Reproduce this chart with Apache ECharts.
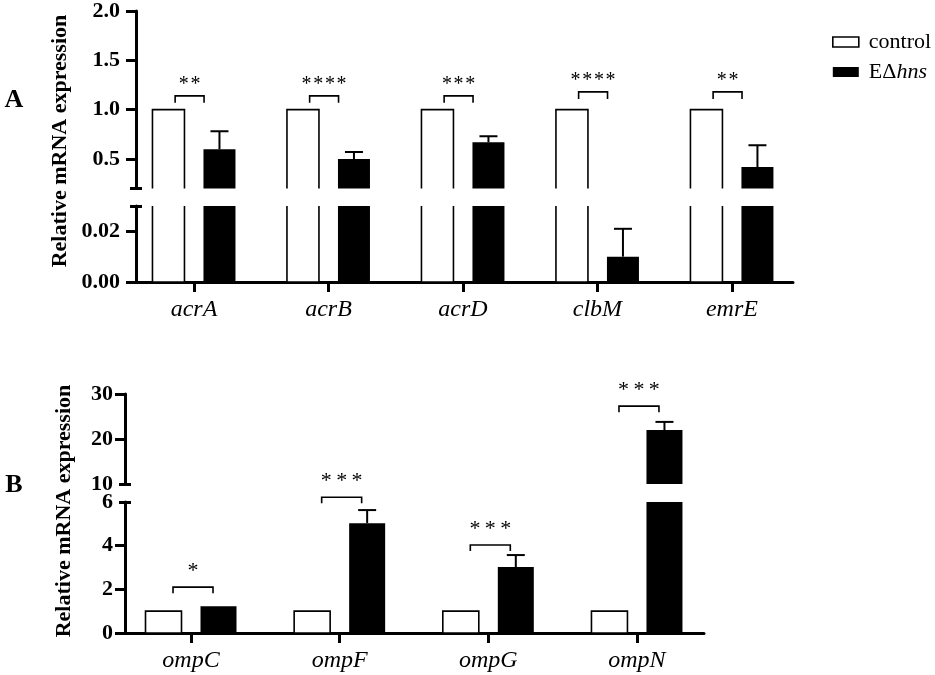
<!DOCTYPE html>
<html><head><meta charset="utf-8">
<script src="https://cdn.jsdelivr.net/npm/echarts@6/dist/echarts.min.js"></script>
<style>html,body{margin:0;padding:0;background:#fff}#c{width:935px;height:675px}</style>
</head><body><div id="c"></div>
<script>
// ---------- data ----------
const genesA = ['acrA', 'acrB', 'acrD', 'clbM', 'emrE'];
const controlA = [1, 1, 1, 1, 1];
const mutantA = [0.60, 0.50, 0.67, 0.010, 0.42];
const errA = [0.18, 0.07, 0.06, 0.011, 0.22];
const sigA = ['**', '****', '***', '****', '**'];
const sigLevelA = [1.14, 1.14, 1.14, 1.18, 1.18];
const labelsAUpper = [0.5, 1.0, 1.5, 2.0];
const labelsALower = [0.00, 0.02];

const genesB = ['ompC', 'ompF', 'ompG', 'ompN'];
const controlB = [1, 1, 1, 1];
const mutantB = [1.22, 5.03, 3.02, 22.0];
const errB = [0, 0.60, 0.55, 1.8];
const sigB = ['*', '***', '***', '***'];
const sigLevelB = [2.1, 6.22, 4.03, 27.3];
const labelsBUpper = [10, 20, 30];
const labelsBLower = [0, 2, 4, 6];

// ---------- style / layout ----------
const SERIF = '"Liberation Serif", "Times New Roman", serif';
const AX = {upperMin: 0.2, upperMax: 2.0, lowerMin: 0, lowerMax: 0.03, xMin: -0.431, xMax: 4.454};
const BX = {upperMin: 10, upperMax: 30, lowerMin: 0, lowerMax: 6, xMin: -0.444, xMax: 3.451};

function xAxisCfg(gridIndex, min, max, names, show, margin) {
  const idx = names.map((_, i) => i);
  return {
    type: 'value', gridIndex, min, max, splitLine: {show: false},
    axisLine: {show: show, onZero: false, lineStyle: {color: '#000', width: 3}},
    axisTick: {show: show, customValues: idx, length: 10, lineStyle: {color: '#000', width: 3}},
    axisLabel: {show: show, customValues: idx, formatter: v => names[Math.round(v)] || '',
      fontFamily: SERIF, fontStyle: 'italic', fontSize: 24, color: '#000', margin: margin}
  };
}
function yAxisCfg(gridIndex, min, max, labels, ticks, fmt, margin) {
  return {
    type: 'value', gridIndex, min, max, position: 'left', splitLine: {show: false},
    axisLine: {show: true, onZero: false, lineStyle: {color: '#000', width: 3}},
    axisTick: {show: true, customValues: ticks, length: 10, lineStyle: {color: '#000', width: 3}},
    axisLabel: {customValues: labels, formatter: fmt, fontFamily: SERIF, fontWeight: 'bold',
      fontSize: 22, color: '#000', margin: margin}
  };
}
function capAxisCfg(gridIndex, min, max, val) {
  return {
    type: 'value', gridIndex, min, max, position: 'left', offset: 6, splitLine: {show: false},
    axisLine: {show: false, onZero: false},
    axisTick: {show: true, inside: true, customValues: [val], length: 12, lineStyle: {color: '#000', width: 3}},
    axisLabel: {show: false}
  };
}
function barSeries(name, xi, yi, vals, side, fill, stroke, w, gapPx) {
  const off = side * (w + gapPx) / 2;
  return {
    type: 'custom', name, xAxisIndex: xi, yAxisIndex: yi, clip: true, silent: true, z: 3,
    data: vals.map((v, i) => [i, v]),
    renderItem(p, api) {
      const i = api.value(0), v = api.value(1);
      const top = api.coord([i, v]);
      const base = api.coord([i, 0]);
      const cx = top[0] + off;
      return {
        type: 'rect',
        shape: {x: cx - w / 2, y: Math.min(top[1], base[1]), width: w, height: Math.abs(base[1] - top[1])},
        style: {fill: fill, stroke: stroke || null, lineWidth: stroke ? 1.6 : 0}
      };
    }
  };
}
function errSeries(xi, yi, vals, errs, offPx, capW) {
  return {
    type: 'custom', xAxisIndex: xi, yAxisIndex: yi, clip: true, silent: true, z: 4,
    data: vals.map((v, i) => [i, v, v + errs[i], errs[i]]),
    renderItem(p, api) {
      if (!(api.value(3) > 0)) return null;
      const i = api.value(0);
      const lo = api.coord([i, api.value(1)]);
      const hi = api.coord([i, api.value(2)]);
      const cx = lo[0] + offPx;
      return {
        type: 'group', children: [
          {type: 'line', shape: {x1: cx, y1: lo[1], x2: cx, y2: hi[1]}, style: {stroke: '#000', lineWidth: 2}},
          {type: 'line', shape: {x1: cx - capW / 2, y1: hi[1], x2: cx + capW / 2, y2: hi[1]}, style: {stroke: '#000', lineWidth: 2}}
        ]
      };
    }
  };
}
function sigSeries(xi, yi, levels, sigs, keep, dl, dr, leg, fontSize, sep, starDy) {
  return {
    type: 'custom', xAxisIndex: xi, yAxisIndex: yi, clip: false, silent: true, z: 4,
    data: levels.map((v, i) => [i, v]).filter(d => keep(d[1])),
    renderItem(p, api) {
      const i = api.value(0), y = api.value(1);
      const l = api.coord([i + dl, y]);
      const r = api.coord([i + dr, y]);
      return {
        type: 'group', children: [
          {type: 'polyline', shape: {points: [[l[0], l[1] + leg], [l[0], l[1]], [r[0], l[1]], [r[0], l[1] + leg]]},
            style: {stroke: '#000', lineWidth: 1.6, fill: null}},
          {type: 'text', style: {text: sigs[i].split('').join(sep), x: (l[0] + r[0]) / 2, y: l[1] - starDy,
            align: 'center', verticalAlign: 'middle', fontFamily: SERIF, fontSize: fontSize, fill: '#000'}}
        ]
      };
    }
  };
}

const A_W = 32, A_GAP = 19, B_W = 36, B_GAP = 19;

const option = {
  backgroundColor: '#fff',
  animation: false,
  legend: {
    orient: 'vertical', left: 827, top: 26, itemWidth: 26, itemHeight: 10, itemGap: 8,
    selectedMode: false,
    data: [
      {name: 'control', icon: 'rect', itemStyle: {color: '#fff', borderColor: '#000', borderWidth: 1.6}},
      {name: 'E\u0394hns', icon: 'rect', itemStyle: {color: '#000', borderWidth: 0}}
    ],
    formatter: n => n === 'control' ? '{n|control}' : '{n|E\u0394}{i|hns}',
    textStyle: {padding: [0, 0, 0, 5], lineHeight: 22, rich: {
      n: {fontFamily: SERIF, fontSize: 22, color: '#000', lineHeight: 22},
      i: {fontFamily: SERIF, fontSize: 22, color: '#000', fontStyle: 'italic', lineHeight: 22}
    }}
  },
  grid: [
    {left: 136, right: 142, top: 11, height: 177.6},
    {left: 136, right: 142, top: 206, height: 76},
    {left: 125, right: 231, top: 394, height: 90},
    {left: 125, right: 231, top: 502, height: 131}
  ],
  xAxis: [
    xAxisCfg(0, AX.xMin, AX.xMax, genesA, false, 16),
    xAxisCfg(1, AX.xMin, AX.xMax, genesA, true, 16),
    xAxisCfg(2, BX.xMin, BX.xMax, genesB, false, 16),
    xAxisCfg(3, BX.xMin, BX.xMax, genesB, true, 16)
  ],
  yAxis: [
    yAxisCfg(0, AX.upperMin, AX.upperMax, labelsAUpper, labelsAUpper, v => v.toFixed(1), 16),
    yAxisCfg(1, AX.lowerMin, AX.lowerMax, labelsALower, labelsALower, v => v.toFixed(2), 16),
    yAxisCfg(2, BX.upperMin, BX.upperMax, labelsBUpper, labelsBUpper.slice(1), v => String(v), 12),
    yAxisCfg(3, BX.lowerMin, BX.lowerMax, labelsBLower, labelsBLower.slice(0, -1), v => String(v), 12),
    capAxisCfg(0, AX.upperMin, AX.upperMax, AX.upperMin),
    capAxisCfg(1, AX.lowerMin, AX.lowerMax, AX.lowerMax),
    capAxisCfg(2, BX.upperMin, BX.upperMax, BX.upperMin),
    capAxisCfg(3, BX.lowerMin, BX.lowerMax, BX.lowerMax)
  ],
  graphic: [
    {type: 'text', x: 60, y: 141, rotation: Math.PI / 2, style: {text: 'Relative mRNA expression',
      fontFamily: SERIF, fontWeight: 'bold', fontSize: 22, fill: '#000', align: 'center', verticalAlign: 'middle'}},
    {type: 'text', x: 64, y: 511, rotation: Math.PI / 2, style: {text: 'Relative mRNA expression',
      fontFamily: SERIF, fontWeight: 'bold', fontSize: 22, fill: '#000', align: 'center', verticalAlign: 'middle'}},
    {type: 'text', x: 14, y: 100, style: {text: 'A', fontFamily: SERIF, fontWeight: 'bold', fontSize: 26,
      fill: '#000', align: 'center', verticalAlign: 'middle'}},
    {type: 'text', x: 14, y: 485, style: {text: 'B', fontFamily: SERIF, fontWeight: 'bold', fontSize: 26,
      fill: '#000', align: 'center', verticalAlign: 'middle'}}
  ],
  series: [
    // panel A
    barSeries('control', 0, 0, controlA, -1, '#fff', '#000', A_W, A_GAP),
    barSeries('E\u0394hns', 0, 0, mutantA, 1, '#000', null, A_W, A_GAP),
    barSeries('control', 1, 1, controlA, -1, '#fff', '#000', A_W, A_GAP),
    barSeries('E\u0394hns', 1, 1, mutantA, 1, '#000', null, A_W, A_GAP),
    errSeries(0, 0, mutantA, errA, (A_W + A_GAP) / 2, 18),
    errSeries(1, 1, mutantA, errA, (A_W + A_GAP) / 2, 18),
    sigSeries(0, 0, sigLevelA, sigA, v => true, -0.14, 0.075, 7, 20, '\u200A', 11),
    // panel B
    barSeries('control', 2, 2, controlB, -1, '#fff', '#000', B_W, B_GAP),
    barSeries('E\u0394hns', 2, 2, mutantB, 1, '#000', null, B_W, B_GAP),
    barSeries('control', 3, 3, controlB, -1, '#fff', '#000', B_W, B_GAP),
    barSeries('E\u0394hns', 3, 3, mutantB, 1, '#000', null, B_W, B_GAP),
    errSeries(2, 2, mutantB, errB, (B_W + B_GAP) / 2, 18),
    errSeries(3, 3, mutantB, errB, (B_W + B_GAP) / 2, 18),
    sigSeries(2, 2, sigLevelB, sigB, v => v >= BX.upperMin, -0.121, 0.148, 6, 22, '\u2009', 16),
    sigSeries(3, 3, sigLevelB, sigB, v => v < BX.upperMin, -0.121, 0.148, 6, 22, '\u2009', 16)
  ]
};
const chart = echarts.init(document.getElementById('c'), null, {renderer: 'canvas'});
chart.setOption(option);
</script>
</body></html>
